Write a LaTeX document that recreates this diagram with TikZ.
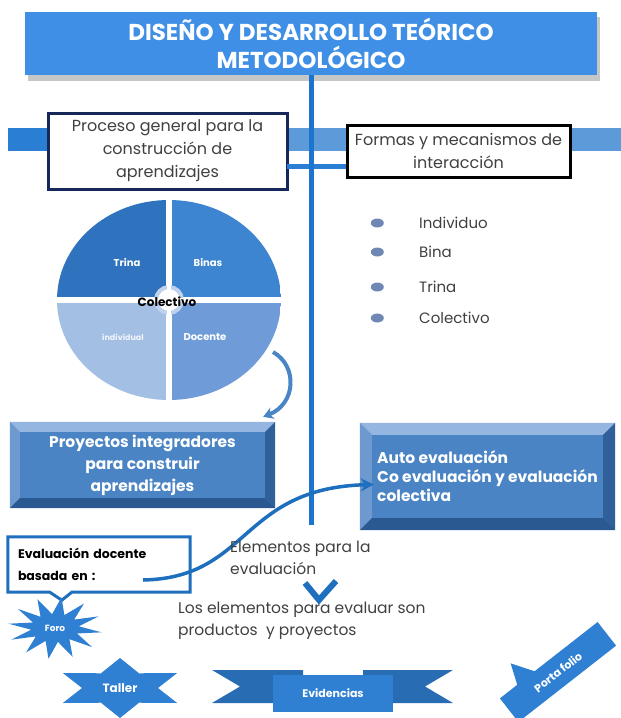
\documentclass[tikz,border=0pt]{standalone}
\usepackage{fontspec}
\setmainfont{Poppins}
\usepackage{tikz}
\usetikzlibrary{positioning, shapes.geometric, arrows.meta}

\definecolor{titleblue}{HTML}{3F8FE6}
\definecolor{trunkblue}{HTML}{1B75CF}
\definecolor{barblue}{HTML}{5D9AD9}
\definecolor{stubblue}{HTML}{2A7FD4}
\definecolor{navy}{HTML}{16275A}
\definecolor{txtgray}{HTML}{404040}
\definecolor{pieA}{HTML}{2F72BD}
\definecolor{pieB}{HTML}{3D85D0}
\definecolor{pieC}{HTML}{A3BFE4}
\definecolor{pieD}{HTML}{6F9CD8}
\definecolor{bevface}{HTML}{4A84C4}
\definecolor{bevtop}{HTML}{94B6E0}
\definecolor{bevleft}{HTML}{6E99CF}
\definecolor{bevright}{HTML}{30609A}
\definecolor{bevbottom}{HTML}{2A5890}
\definecolor{curlblue}{HTML}{4A86C5}
\definecolor{linkblue}{HTML}{1F6FBF}
\definecolor{dotblue}{HTML}{6F87B3}
\definecolor{shapeblue}{HTML}{2F80D3}

\tikzstyle{titlebox} = [rectangle, minimum width=572pt, minimum height=63pt, fill=titleblue, text=white, align=center, font=\bfseries\fontsize{23}{28}\selectfont]
\tikzstyle{framebox} = [rectangle, line width=3pt, fill=white, text=txtgray, align=center, font=\fontsize{16}{23}\selectfont, inner sep=0pt]
\tikzstyle{bevelbox} = [rectangle, fill=bevface, text=white, font=\bfseries\fontsize{15.5}{22}\selectfont, inner sep=0pt]
\tikzstyle{pielabel} = [text=white, font=\bfseries\fontsize{10}{12}\selectfont, inner sep=0pt]
\tikzstyle{dot}      = [ellipse, fill=dotblue, minimum width=13pt, minimum height=9pt, inner sep=0pt]
\tikzstyle{item}     = [text=txtgray, font=\fontsize{15}{18}\selectfont, inner sep=0pt]
\tikzstyle{note}     = [text=txtgray, align=left, font=\fontsize{15.5}{22}\selectfont, inner sep=0pt]
\tikzstyle{badge}    = [text=white, font=\bfseries\fontsize{11}{13}\selectfont, inner sep=0pt]
\tikzstyle{trunk}    = [draw=trunkblue, line width=5pt]
\tikzstyle{curl}     = [draw=curlblue, line width=4pt, -{Stealth[length=10pt,width=12pt]}]
\tikzstyle{evalarrow}= [draw=linkblue, line width=3.5pt, -{Stealth[length=13pt,width=13pt]}]

\newcommand{\drawbevel}[2]{%
  \fill[bevtop] (#1.north west) -- (#1.north east) -- ([xshift=-#2pt,yshift=-#2pt]#1.north east) -- ([xshift=#2pt,yshift=-#2pt]#1.north west) -- cycle;
  \fill[bevleft] (#1.north west) -- ([xshift=#2pt,yshift=-#2pt]#1.north west) -- ([xshift=#2pt,yshift=#2pt]#1.south west) -- (#1.south west) -- cycle;
  \fill[bevright] (#1.north east) -- ([xshift=-#2pt,yshift=-#2pt]#1.north east) -- ([xshift=-#2pt,yshift=#2pt]#1.south east) -- (#1.south east) -- cycle;
  \fill[bevbottom] (#1.south west) -- ([xshift=#2pt,yshift=#2pt]#1.south west) -- ([xshift=-#2pt,yshift=#2pt]#1.south east) -- (#1.south east) -- cycle;
}

\begin{document}
\begin{tikzpicture}[x=1pt, y=-1pt]
    \useasboundingbox (0,0) rectangle (621,718);

    \fill[gray!45] (28,17) rectangle (600,81);
    \node[titlebox] (title) at (311,43.5) {DISEÑO Y DESARROLLO TEÓRICO\\METODOLÓGICO};

    \fill[stubblue] (8,128) rectangle (48,151);
    \fill[barblue] (287,128) rectangle (621,151);
    \node[framebox, draw=navy, minimum width=239pt, minimum height=76pt] (procbox) at (167.5,151) {Proceso general para la\\construcción de\\aprendizajes};
    \node[framebox, draw=black, minimum width=223pt, minimum height=52pt] (formbox) at (458.5,151) {Formas y mecanismos de\\interacción};
    \coordinate (thinL) at (287,166);
    \draw[stubblue, line width=5pt] (thinL) -- (thinL -| formbox.west);
    \coordinate (trunkend) at (311,525);
    \draw[trunk] (title.south) -- (title.south |- trunkend);

    % pie
    \begin{scope}
        \clip (169,300) ellipse [x radius=112, y radius=100];
        \fill[pieA] (57,200) rectangle (169,300);
        \fill[pieB] (169,200) rectangle (281,300);
        \fill[pieC] (57,300) rectangle (169,402);
        \fill[pieD] (169,300) rectangle (281,402);
    \end{scope}
    \draw[white, line width=6pt] (169,195) -- (169,405) (52,300) -- (286,300);
    \draw[draw=pieC!70, line width=4pt, fill=white] (169,300) circle [radius=13];
    \draw[white, line width=4pt] (169,283) -- (169,317) (152,300) -- (186,300);
    \node[pielabel] (trina) at (127,263) {Trina};
    \node[pielabel] (binas) at (208,263) {Binas};
    \node[pielabel, text=white!85!pieC, font=\bfseries\fontsize{8}{10}\selectfont] (indiv) at (123,337) {individual};
    \node[pielabel] (docente) at (205,337) {Docente};
    \node[font=\bfseries\fontsize{12}{14}\selectfont, inner sep=0pt] (colect) at (167,302) {Colectivo};

    \node[item, anchor=west] (ind) at (419,223) {Individuo};
    \node[item, anchor=west] (bina) at (419,252) {Bina};
    \node[item, anchor=west] (tri) at (419,287) {Trina};
    \node[item, anchor=west] (col) at (419,318) {Colectivo};
    \node[dot, left=35pt of ind] (dind) {};
    \node[dot, left=35pt of bina] (dbina) {};
    \node[dot, left=35pt of tri] (dtri) {};
    \node[dot, left=35pt of col] (dcol) {};

    \node[bevelbox, align=center, minimum width=265pt, minimum height=86pt] (projbox) at (142.5,465) {Proyectos integradores\\para construir\\aprendizajes};
    \drawbevel{projbox}{10}
    \node[bevelbox, align=left, minimum width=255pt, minimum height=107pt, font=\bfseries\fontsize{15.5}{19}\selectfont] (autobox) at (487.5,476.5) {Auto evaluación\\Co evaluación y evaluación\\colectiva};
    \drawbevel{autobox}{12}

    \coordinate (piecurl) at (273,352);
    \draw[curl] (piecurl) .. controls (298,366) and (296,404) .. ([xshift=-12pt,yshift=5pt]projbox.north east);

    \node[rectangle, inner xsep=10pt, text width=162pt, minimum height=55pt, align=left, font=\bfseries\fontsize{12.5}{22}\selectfont] (evalbox) at (99,564.5) {Evaluación docente\\basada en :};
    \draw[linkblue, line width=3pt] (evalbox.south west) -- (evalbox.north west) -- (evalbox.north east) -- (evalbox.south east) -- ([xshift=64pt]evalbox.south west) -- ([xshift=54pt,yshift=-8pt]evalbox.south west) -- ([xshift=42pt]evalbox.south west) -- cycle;
    \coordinate (evalstart) at (143,580);
    \draw[evalarrow] (evalstart) .. controls (250,578) and (240,488) .. ([xshift=14pt,yshift=-8pt]autobox.west);

    \node[note, anchor=west] (elemtxt) at (230,558) {Elementos para la\\evaluación};
    \draw[linkblue, line width=6pt, miter limit=4] (305,583) -- (319,600) -- (336,581);
    \node[note, anchor=west] (lostxt) at (178,621) {Los elementos para evaluar son\\productos \ y proyectos};

    \fill[shapeblue] plot[variable=\k, samples at={0,...,23}] ({55+ifthenelse(mod(\k,2)==0,47,24)*cos(\k*15+8)}, {628+ifthenelse(mod(\k,2)==0,31,14)*sin(\k*15+8)}) -- cycle;
    \node[badge, font=\bfseries\fontsize{9}{11}\selectfont] (foro) at (55,628) {Foro};

    \fill[shapeblue] plot[variable=\k, samples at={0,...,11}] ({120+ifthenelse(mod(\k,2)==0,66,38)*cos(90+\k*30)}, {688-ifthenelse(mod(\k,2)==0,30,17)*sin(90+\k*30)}) -- cycle;
    \node[badge, font=\bfseries\fontsize{12}{14}\selectfont] (taller) at (120,688) {Taller};

    \fill[shapeblue!85!black] (212,670) -- (303,670) -- (303,703) -- (212,703) -- (240,686.5) -- cycle;
    \fill[shapeblue!85!black] (363,670) -- (453,670) -- (425,686.5) -- (453,703) -- (363,703) -- cycle;
    \node[badge, fill=shapeblue, minimum width=120pt, minimum height=37pt] (evid) at (333,693.5) {Evidencias};

    \begin{scope}[shift={(558,672)}, rotate=38]
        \fill[shapeblue] (-62,-15) -- (-40,-15) -- (-32,-36) -- (-18,-15) -- (62,-15) -- (62,15) -- (-62,15) -- cycle;
        \node[badge, transform shape] (porta) at (0,0) {Porta folio};
    \end{scope}
\end{tikzpicture}
\end{document}
